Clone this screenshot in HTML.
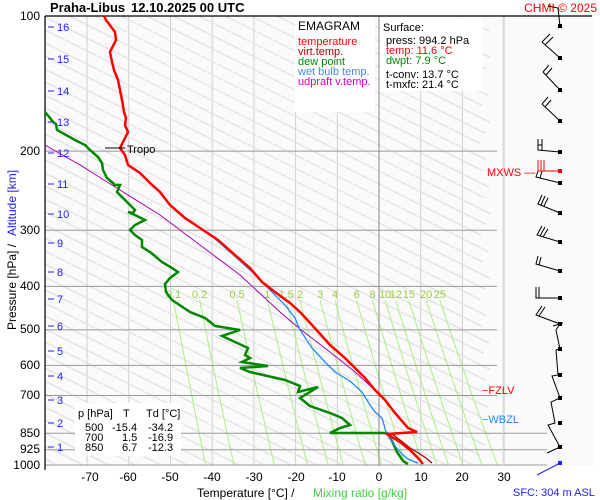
<!DOCTYPE html>
<html><head><meta charset="utf-8"><style>
html,body{margin:0;padding:0;background:#fff;width:600px;height:500px;overflow:hidden}
svg{display:block;font-family:"Liberation Sans",sans-serif}
</style></head><body>
<svg id="s" width="600" height="500" viewBox="0 0 600 500" xmlns="http://www.w3.org/2000/svg" overflow="hidden">
<rect x="0" y="0" width="600" height="500" fill="#fff"/>
<rect x="45" y="16" width="550" height="450" fill="#fafafa"/>
<g id="grid"></g>
<line x1="379" y1="16" x2="379" y2="466" stroke="#888" stroke-width="1"/>
<line x1="503" y1="16" x2="503" y2="466" stroke="#ddd" stroke-width="1"/>
<line x1="45" y1="16" x2="592" y2="16" stroke="#000" stroke-width="1.2"/>
<line x1="45" y1="16" x2="45" y2="470" stroke="#000" stroke-width="1.2"/>
<rect x="295" y="17" width="80" height="95" fill="#fff"/>
<rect x="380" y="17" width="103" height="74" fill="#fff"/>
<g font-size="11">
<text x="298" y="30" font-size="12">EMAGRAM</text>
<text x="298" y="45" fill="#f00">temperature</text>
<text x="298" y="55" fill="#a00">virt.temp.</text>
<text x="298" y="65" fill="#080">dew point</text>
<text x="298" y="75" fill="#48f">wet bulb temp.</text>
<text x="298" y="85" fill="#c0c">udpraft v.temp.</text>
<text x="383" y="31">Surface:</text>
<text x="386" y="44">press: 994.2 hPa</text>
<text x="386" y="54" fill="#f00">temp: 11.6 °C</text>
<text x="386" y="64" fill="#080">dwpt: 7.9 °C</text>
<text x="386" y="78">t-conv: 13.7 °C</text>
<text x="386" y="88">t-mxfc: 21.4 °C</text>
</g>
<rect x="75" y="403" width="106" height="53" fill="#fff"/>
<g font-size="11">
<text x="78" y="417">p [hPa]</text><text x="123" y="417">T</text><text x="146" y="417">Td [°C]</text>
<text x="85" y="431">500</text><text x="112" y="431">-15.4</text><text x="148" y="431">-34.2</text>
<text x="85" y="441">700</text><text x="122" y="441">1.5</text><text x="148" y="441">-16.9</text>
<text x="85" y="451">850</text><text x="122" y="451">6.7</text><text x="148" y="451">-12.3</text>
</g>
<polyline fill="none" stroke="#a0a" stroke-width="1" points="45,145 80,165 120,190 160,215 200,245 240,275 280,312 300,329 330,352 355,372 378,393 390,405"/>
<polyline fill="none" stroke="#080" stroke-width="2.5" points="45,112 50,118 53,122 56,124 57,130 75,140 85,145 90,150 98,157 102,163 103,170 107,178 115,185 120,185 117,192 120,195 125,200 130,205 135,210 133,213 128,212 137,216 145,220 135,225 130,230 135,235 142,240 142,247 150,252 162,262 172,268 178,272 170,278 165,284 166,292 172,300 190,312 205,318 215,326 240,330 222,336 235,342 248,348 245,355 250,358 242,362 268,366 240,368 250,372 285,380 300,386 298,392 318,387 300,398 310,406 330,413 342,418 350,425 340,428 330,433 387,433 392,441 397,452 403,461 408,464"/>
<polyline fill="none" stroke="#28f" stroke-width="1.3" points="214,238 230,252 250,270 270,290 285,305 295,318 300,330 312,348 325,362 335,372 350,381 362,392 370,405 375,412 382,418 386,432 390,438 395,446 402,454 408,459 418,463"/>
<polyline fill="none" stroke="#a00" stroke-width="1.3" points="392,434 400,440 410,448 420,454 426,458 432,463"/>
<polyline fill="none" stroke="#f00" stroke-width="2.5" points="104,16 106,20 112,28 115,32 116,40 110,52 112,62 114,70 118,80 120,90 122,100 124,112 126,118 125,125 128,132 124,140 120,148 125,155 128,165 140,173 150,183 160,192 170,205 185,218 200,228 218,240 235,255 250,268 262,282 275,292 290,303 300,312 312,325 330,345 345,358 355,368 365,378 375,390 385,400 395,413 408,428 417,432 387,434 400,442 410,450 418,458 423,464"/>
<line x1="105" y1="148" x2="125" y2="148" stroke="#000" stroke-width="1"/>
<text x="127" y="153" font-size="11">Tropo</text>
<g id="alt" font-size="11" fill="#22f"></g>
<g font-size="12" text-anchor="end">
<text x="40" y="20">100</text><text x="40" y="155">200</text><text x="40" y="234">300</text><text x="40" y="290">400</text>
<text x="40" y="333">500</text><text x="40" y="369">600</text><text x="40" y="399">700</text><text x="40" y="437">850</text>
<text x="40" y="453">925</text><text x="40" y="469">1000</text>
</g>
<g font-size="12" text-anchor="middle">
<text x="90" y="481">-70</text><text x="128" y="481">-60</text><text x="170" y="481">-50</text><text x="212" y="481">-40</text>
<text x="254" y="481">-30</text><text x="296" y="481">-20</text><text x="337" y="481">-10</text><text x="379" y="481">0</text>
<text x="421" y="481">10</text><text x="462" y="481">20</text><text x="504" y="481">30</text>
</g>
<text x="197" y="497" font-size="12">Temperature [°C]  /</text>
<text x="313" y="497" font-size="12" fill="#4c4">Mixing ratio [g/kg]</text>
<text x="513" y="496" font-size="11" fill="#22f">SFC: 304 m ASL</text>
<text transform="translate(16,330) rotate(-90)" font-size="12">Pressure [hPa]  /</text>
<text transform="translate(16,236) rotate(-90)" font-size="12" fill="#22f">Altitude [km]</text>
<text x="50" y="12" font-size="13" font-weight="bold">Praha-Libus</text>
<text x="131" y="12" font-size="13" font-weight="bold">12.10.2025 00 UTC</text>
<text x="597" y="12" font-size="12" fill="#f00" text-anchor="end">CHMI © 2025</text>
<g font-size="11">
<text x="487" y="176" fill="#f00">MXWS —</text>
<text x="482" y="394" fill="#f00">−FZLV</text>
<text x="482" y="423" fill="#28f">−WBZL</text>
</g>
<g stroke="#000" stroke-width="1" fill="none">
<polyline points="560,26 558,8 548,6"/>
<polyline points="560,58 542,42"/><line x1="542" y1="42" x2="550" y2="34"/><line x1="545" y1="45" x2="553" y2="37"/>
<polyline points="560,90 543,72"/><line x1="543" y1="72" x2="549" y2="65"/><line x1="546" y1="75" x2="552" y2="68"/>
<polyline points="560,121 542,104"/><line x1="542" y1="104" x2="548" y2="97"/><line x1="545" y1="107" x2="551" y2="100"/>
<polyline points="560,152 538,150 538,139"/><line x1="542" y1="150" x2="542" y2="139"/><line x1="538" y1="145" x2="542" y2="145"/>
<polyline points="560,183 536,177 538,171"/><line x1="540" y1="178" x2="542" y2="171"/>
<polyline points="560,213 538,204 542,195"/><line x1="541" y1="205" x2="545" y2="196"/><line x1="544" y1="206" x2="548" y2="198"/>
<polyline points="560,242 537,235 542,226"/><line x1="540" y1="236" x2="545" y2="227"/><line x1="543" y1="237" x2="548" y2="229"/>
<polyline points="560,271 536,264 538,256"/><line x1="539" y1="265" x2="541" y2="257"/>
<polyline points="560,298 536,298 536,287"/><line x1="539" y1="298" x2="539" y2="287"/>
<polyline points="560,324 536,315 542,306"/><line x1="539" y1="316" x2="545" y2="307"/>
<polyline points="560,324 556,330 560,349 556,350 558,375 552,376 560,398 551,402 555,423 548,425 560,447 547,453"/>
<line x1="553" y1="326" x2="563" y2="323"/>
</g>
<line x1="538" y1="171" x2="560" y2="171" stroke="#f00" stroke-width="1"/>
<line x1="538" y1="171" x2="538" y2="160" stroke="#f00"/><line x1="541" y1="171" x2="541" y2="160" stroke="#f00"/><line x1="544" y1="171" x2="544" y2="160" stroke="#f00"/>
<line x1="560" y1="463" x2="537" y2="475" stroke="#22f" stroke-width="1"/>
<g fill="#000"><rect x="558" y="24" width="4" height="4"/><rect x="558" y="56" width="4" height="4"/><rect x="558" y="88" width="4" height="4"/><rect x="558" y="119" width="4" height="4"/><rect x="558" y="150" width="4" height="4"/><rect x="558" y="181" width="4" height="4"/><rect x="558" y="211" width="4" height="4"/><rect x="558" y="240" width="4" height="4"/><rect x="558" y="269" width="4" height="4"/><rect x="558" y="296" width="4" height="4"/><rect x="558" y="322" width="4" height="4"/><rect x="558" y="347" width="4" height="4"/><rect x="558" y="373" width="4" height="4"/><rect x="558" y="396" width="4" height="4"/><rect x="558" y="421" width="4" height="4"/><rect x="558" y="445" width="4" height="4"/></g>
<rect x="558" y="169" width="4" height="4" fill="#f00"/>
<rect x="558" y="461" width="4" height="4" fill="#22f"/>
</svg>
<script>
(function(){
var NS="http://www.w3.org/2000/svg",g=document.getElementById("grid");
function X(T){return 379+4.17*T}
function Y(p){return 16+449*Math.log10(p/100)}
function el(n,a,par){var e=document.createElementNS(NS,n);for(var k in a)e.setAttribute(k,a[k]);(par||g).appendChild(e);return e}
for(var T=-80;T<=30;T+=10){if(X(T)>45)el("line",{x1:X(T),y1:16,x2:X(T),y2:466,stroke:"#d0d0d0","stroke-width":1})}
var i=0;
for(var y0=-230;y0<=465;y0+=13){var xe=480+((i*7)%12);i++;
var xa=Math.max(45,45+2*(16-y0)),xb=Math.min(xe,45+2*(465-y0));
if(xb>xa)el("line",{x1:xa,y1:y0+0.5*(xa-45),x2:xb,y2:y0+0.5*(xb-45),stroke:"#dcdcdc","stroke-width":1})}
var ws=[0.1,0.2,0.5,1,1.5,2,3,4,6,8,10,12,15,20,25];
function Td(w,p){var e=w*p/(622+w);var l=Math.log(e/6.112);return 243.5*l/(17.67-l)}
ws.forEach(function(w){var pts=[];for(var p=430;p<=1000;p+=10){pts.push(X(Td(w,p)).toFixed(1)+","+Y(p).toFixed(1))}
el("polyline",{points:pts.join(" "),fill:"none",stroke:"#a8f080","stroke-width":1});
var t=el("text",{x:X(Td(w,430)),y:298,"font-size":11,fill:"#9c4","text-anchor":"middle"});t.textContent=w});
[100,200,300,400,500,600,700,850,925,1000].forEach(function(p){el("line",{x1:45,y1:Y(p),x2:(p>=850?547:497),y2:Y(p),stroke:"#999","stroke-width":1})});
var a=document.getElementById("alt");
var ay={16:27,15:59,14:91,13:122,12:153,11:184,10:214,9:243,8:272,7:299,6:326,5:351,4:376,3:400,2:423,1:447};
for(var k in ay){el("line",{x1:48,y1:ay[k],x2:54,y2:ay[k],stroke:"#22f","stroke-width":1},a);var t=el("text",{x:57,y:ay[k]+4},a);t.textContent=k}
})();
</script>
</body></html>
